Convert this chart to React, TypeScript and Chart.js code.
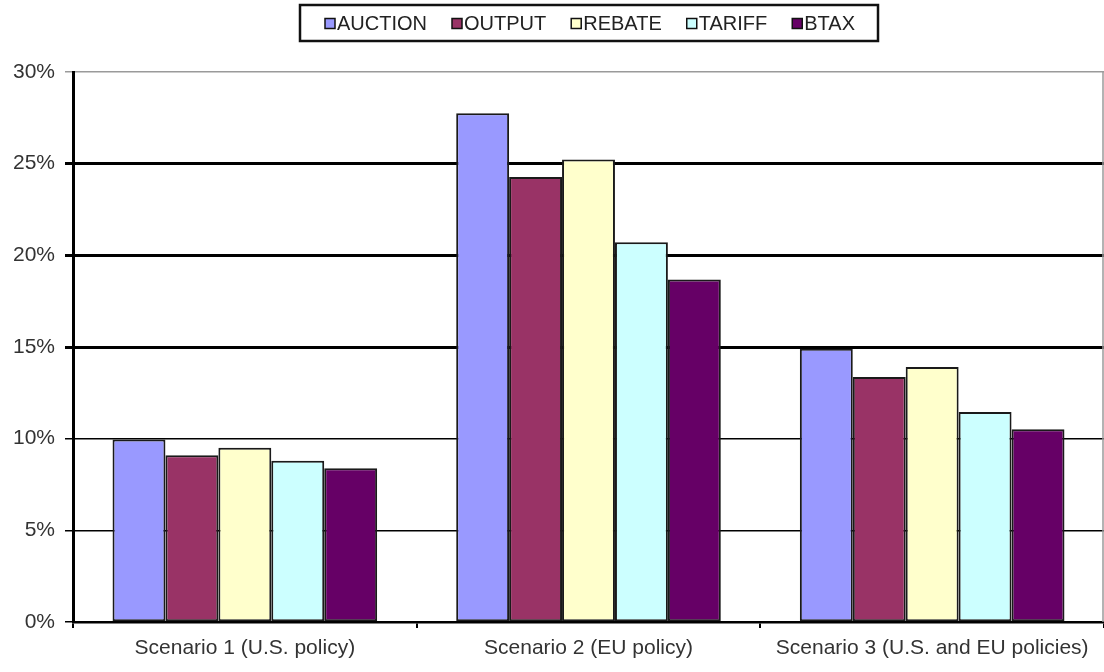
import React, { useEffect, useRef } from "react";
import { Chart, registerables } from "chart.js";

Chart.register(...registerables);

const categories = [
  "Scenario 1 (U.S. policy)",
  "Scenario 2 (EU policy)",
  "Scenario 3 (U.S. and EU policies)",
];
const seriesNames = ["AUCTION", "OUTPUT", "REBATE", "TARIFF", "BTAX"];
const seriesColors = ["#9999FF", "#993366", "#FFFFCC", "#CCFFFF", "#660066"];
const auction = [9.95, 27.75, 14.9];
const output = [9.1, 24.27, 13.37];
const rebate = [9.5, 25.23, 13.91];
const tariff = [8.8, 20.72, 11.46];
const btax = [8.38, 18.68, 10.52];
const seriesValues = [auction, output, rebate, tariff, btax];
const yMin = 0;
const yMax = 30;
const yStep = 5;

const FONT = "'Liberation Sans', Arial, Helvetica, sans-serif";

const legendPlugin = {
  id: "boxedLegend",
  afterDraw(chart: any) {
    const ctx = chart.ctx;
    ctx.save();
    const boxL = 300, boxT = 5, boxR = 878, boxB = 41;
    ctx.fillStyle = "#ffffff";
    ctx.fillRect(boxL, boxT, boxR - boxL, boxB - boxT);
    ctx.strokeStyle = "#111111";
    ctx.lineWidth = 2.5;
    ctx.strokeRect(boxL, boxT, boxR - boxL, boxB - boxT);
    ctx.font = `20px ${FONT}`;
    ctx.textBaseline = "middle";
    ctx.textAlign = "left";
    let x = 325;
    const cy = 23.5;
    seriesNames.forEach((name, i) => {
      ctx.fillStyle = seriesColors[i];
      ctx.fillRect(x, cy - 5, 10, 10);
      ctx.strokeStyle = "#111111";
      ctx.lineWidth = 1.5;
      ctx.strokeRect(x, cy - 5, 10, 10);
      ctx.fillStyle = "#222222";
      ctx.fillText(name, x + 12, cy + 1);
      const w = ctx.measureText(name).width;
      x = x + 12 + w + 25;
    });
    // right border of plot area
    const ca = chart.chartArea;
    ctx.strokeStyle = "#9a9a9a";
    ctx.lineWidth = 1.5;
    ctx.beginPath();
    ctx.moveTo(ca.right - 1, ca.top);
    ctx.lineTo(ca.right - 1, ca.bottom);
    ctx.stroke();
    ctx.restore();
  },
};

export default function App() {
  const ref = useRef<HTMLCanvasElement | null>(null);

  useEffect(() => {
    document.body.style.margin = "0";
    if (!ref.current) return;
    const chart = new Chart(ref.current, {
      type: "bar",
      data: {
        labels: categories,
        datasets: seriesNames.map((name, i) => ({
          label: name,
          data: seriesValues[i],
          backgroundColor: seriesColors[i],
          borderColor: "#1a1a1a",
          borderWidth: 2,
          borderSkipped: false,
          categoryPercentage: 0.77,
          barPercentage: 1,
        })),
      },
      options: {
        animation: false,
        responsive: true,
        maintainAspectRatio: false,
        layout: { padding: { top: 72, left: 0, right: 0, bottom: 0 } },
        plugins: {
          legend: { display: false },
          tooltip: { enabled: false },
        },
        scales: {
          x: {
            afterFit(scale: any) {
              scale.height = 50;
            },
            grid: {
              drawOnChartArea: false,
              drawTicks: true,
              offset: true,
              tickLength: 6,
              color: "#000000",
              lineWidth: 2,
            },
            border: { display: true, color: "#000000", width: 2.5 },
            ticks: {
              color: "#333333",
              font: { family: FONT, size: 21 },
              padding: 8,
              maxRotation: 0,
            },
          },
          y: {
            min: yMin,
            max: yMax,
            afterFit(scale: any) {
              scale.width = 73;
            },
            grid: {
              drawTicks: true,
              tickLength: 8,
              color: (c: any) => (c.tick && c.tick.value === yMax ? "#9a9a9a" : "#000000"),
              lineWidth: (c: any) => {
                const v = c.tick ? c.tick.value : 0;
                if (v === yMax) return 1.5;
                if (v >= 15) return 3;
                return 1.5;
              },
            },
            border: { display: true, color: "#000000", width: 3 },
            ticks: {
              stepSize: yStep,
              color: "#333333",
              font: { family: FONT, size: 21 },
              padding: 10,
              callback: (v: any) => `${v}%`,
            },
          },
        },
      },
      plugins: [legendPlugin],
    });
    return () => chart.destroy();
  }, []);

  return (
    <div style={{ position: "absolute", left: 0, top: 0, width: 1104, height: 672 }}>
      <canvas ref={ref} />
    </div>
  );
}
